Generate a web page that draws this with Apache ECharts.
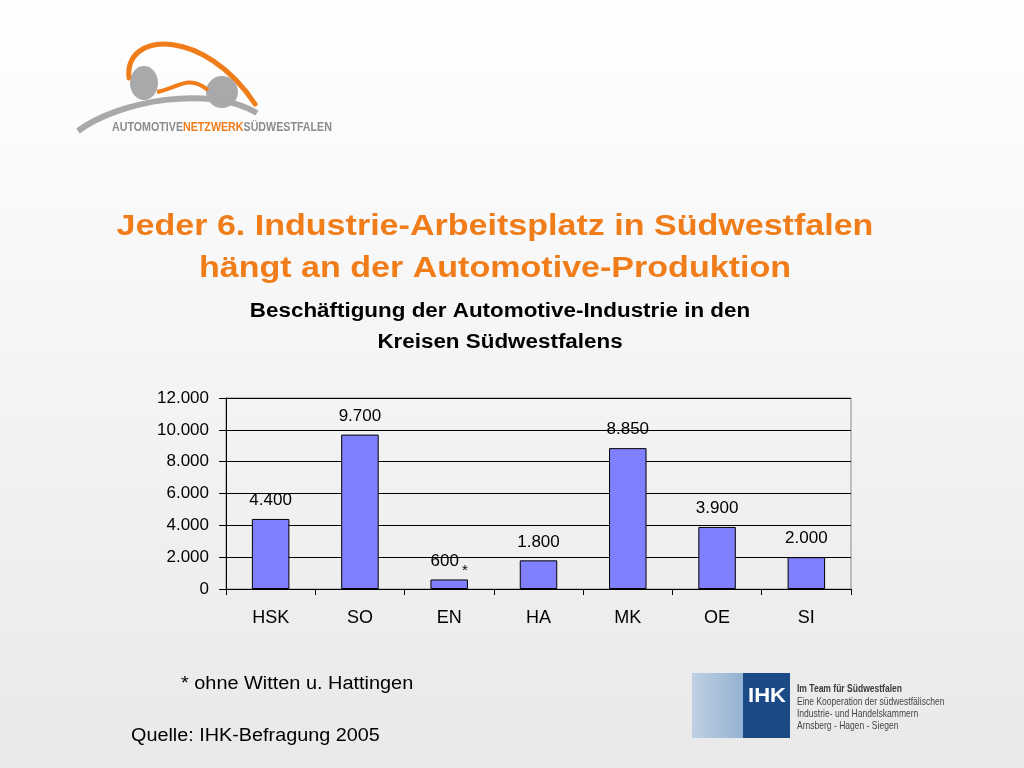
<!DOCTYPE html>
<html>
<head>
<meta charset="utf-8">
<script src="https://cdn.jsdelivr.net/npm/echarts@6/dist/echarts.min.js"></script>
<style>html,body{margin:0;padding:0;}#c{width:1024px;height:768px;}</style>
</head>
<body>
<div id="c"></div>
<script>
var categories = ['HSK', 'SO', 'EN', 'HA', 'MK', 'OE', 'SI'];
var values = [4400, 9700, 600, 1800, 8850, 3900, 2000];
var labelMarks = ['', '', '*', '', '', '', ''];
var yTicks = [0, 2000, 4000, 6000, 8000, 10000, 12000];

function fmt(v) {
  return String(v).replace(/\B(?=(\d{3})+(?!\d))/g, '.');
}

var chart = echarts.init(document.getElementById('c'));
var F = 'Liberation Sans, Arial, sans-serif';
var orange = '#f07d1a';
var grayLogo = '#a9a9ab';

var barData = values.map(function (v, i) {
  return labelMarks[i] ? {value: v, label: {distance: 1}} : v;
});

chart.setOption({
  backgroundColor: {
    type: 'linear', x: 0, y: 0, x2: 0, y2: 1,
    colorStops: [{offset: 0, color: '#ffffff'}, {offset: 1, color: '#e9e9e9'}]
  },
  animation: false,
  grid: {
    left: 226, right: 173, top: 398, bottom: 179,
    show: true, borderColor: '#8c8c8c', borderWidth: 1, backgroundColor: 'transparent'
  },
  xAxis: {
    type: 'category',
    data: categories,
    axisLine: {lineStyle: {color: '#000', width: 1}},
    axisTick: {show: true, length: 6, lineStyle: {color: '#000'}},
    axisLabel: {fontFamily: F, fontSize: 18, color: '#000', margin: 20}
  },
  yAxis: {
    type: 'value',
    min: yTicks[0], max: yTicks[yTicks.length - 1], interval: 2000,
    axisLine: {show: true, lineStyle: {color: '#000', width: 1}},
    axisTick: {show: true, length: 7, lineStyle: {color: '#000'}},
    splitLine: {show: true, lineStyle: {color: '#000', width: 1.2}},
    axisLabel: {fontFamily: F, fontSize: 17, color: '#000', margin: 17,
      formatter: function (v) { return fmt(v); }}
  },
  series: [{
    type: 'bar',
    data: barData,
    barWidth: '42%',
    itemStyle: {color: '#8080ff', borderColor: '#000', borderWidth: 1},
    label: {
      show: true, position: 'top', distance: 10,
      fontFamily: F, fontSize: 17, color: '#000',
      formatter: function (p) {
        var m = labelMarks[p.dataIndex];
        return m ? '{w|' + fmt(p.value) + '}{m|' + m + '}' : '{v|' + fmt(p.value) + '}';
      },
      rich: {
        v: {fontFamily: F, fontSize: 17, color: '#000'},
        w: {fontFamily: F, fontSize: 17, color: '#000', verticalAlign: 'top'},
        m: {fontFamily: F, fontSize: 15, color: '#000', verticalAlign: 'bottom', padding: [11, 0, 0, 3]}
      }
    }
  }],
  graphic: [
    // titles (slide text is horizontally stretched)
    {type: 'text', x: 495, y: 227, scaleX: 1.135,
      style: {text: 'Jeder 6. Industrie-Arbeitsplatz in Südwestfalen', fontFamily: F, fontSize: 30, fontWeight: 'bold',
        fill: orange, align: 'center', verticalAlign: 'middle'}},
    {type: 'text', x: 495, y: 269, scaleX: 1.135,
      style: {text: 'hängt an der Automotive-Produktion', fontFamily: F, fontSize: 30, fontWeight: 'bold',
        fill: orange, align: 'center', verticalAlign: 'middle'}},
    {type: 'text', x: 500, y: 311, scaleX: 1.12,
      style: {text: 'Beschäftigung der Automotive-Industrie in den', fontFamily: F, fontSize: 20, fontWeight: 'bold',
        fill: '#000', align: 'center', verticalAlign: 'middle'}},
    {type: 'text', x: 500, y: 342, scaleX: 1.12,
      style: {text: 'Kreisen Südwestfalens', fontFamily: F, fontSize: 20, fontWeight: 'bold',
        fill: '#000', align: 'center', verticalAlign: 'middle'}},
    // logo
    {type: 'bezierCurve', shape: {x1: 129, y1: 78, cpx1: 124, cpy1: 30, cpx2: 205, cpy2: 28, x2: 255, y2: 104},
      style: {stroke: orange, lineWidth: 5, fill: null, lineCap: 'round'}},
    {type: 'ellipse', shape: {cx: 144, cy: 83, rx: 14, ry: 17}, style: {fill: grayLogo}},
    {type: 'ellipse', shape: {cx: 222, cy: 92, rx: 16, ry: 16}, style: {fill: grayLogo}},
    {type: 'bezierCurve', shape: {x1: 157, y1: 92, cpx1: 178, cpy1: 88, cpx2: 188, cpy2: 74, x2: 208, y2: 90},
      style: {stroke: orange, lineWidth: 4, fill: null}},
    {type: 'bezierCurve', shape: {x1: 78, y1: 131, cpx1: 120, cpy1: 100, cpx2: 210, cpy2: 85, x2: 257, y2: 113},
      style: {stroke: grayLogo, lineWidth: 6, fill: null}},
    {type: 'text', x: 112, y: 128, scaleX: 0.89,
      style: {
        text: '{a|AUTOMOTIVE}{b|NETZWERK}{a|SÜDWESTFALEN}', verticalAlign: 'middle',
        rich: {
          a: {fontFamily: F, fontSize: 12, fontWeight: 'bold', fill: '#8c8c8e'},
          b: {fontFamily: F, fontSize: 12, fontWeight: 'bold', fill: orange}
        }
      }},
    // footnotes
    {type: 'text', x: 181, y: 684, scaleX: 1.105,
      style: {text: '* ohne Witten u. Hattingen', fontFamily: F, fontSize: 18, fill: '#000', verticalAlign: 'middle'}},
    {type: 'text', x: 131, y: 736, scaleX: 1.1,
      style: {text: 'Quelle: IHK-Befragung 2005', fontFamily: F, fontSize: 18, fill: '#000', verticalAlign: 'middle'}},
    // IHK logo
    {type: 'rect', shape: {x: 692, y: 673, width: 51, height: 65},
      style: {fill: {type: 'linear', x: 0, y: 0, x2: 1, y2: 0, colorStops: [{offset: 0, color: '#bfd0e3'}, {offset: 1, color: '#94b2d2'}]}}},
    {type: 'rect', shape: {x: 743, y: 673, width: 47, height: 65}, style: {fill: '#1b4a86'}},
    {type: 'text', x: 748, y: 696, scaleX: 1.05,
      style: {text: 'IHK', fontFamily: F, fontSize: 21, fontWeight: 'bold', fill: '#ffffff', verticalAlign: 'middle'}},
    {type: 'text', x: 797, y: 689, scaleX: 0.775,
      style: {text: 'Im Team für Südwestfalen', fontFamily: F, fontSize: 11, fontWeight: 'bold',
        fill: '#3a3a3a', verticalAlign: 'middle'}},
    {type: 'text', x: 797, y: 696, scaleX: 0.775,
      style: {text: 'Eine Kooperation der südwestfälischen\nIndustrie- und Handelskammern\nArnsberg - Hagen - Siegen',
        fontFamily: F, fontSize: 11, lineHeight: 12, fill: '#454545', verticalAlign: 'top'}}
  ]
});
</script>
</body>
</html>
